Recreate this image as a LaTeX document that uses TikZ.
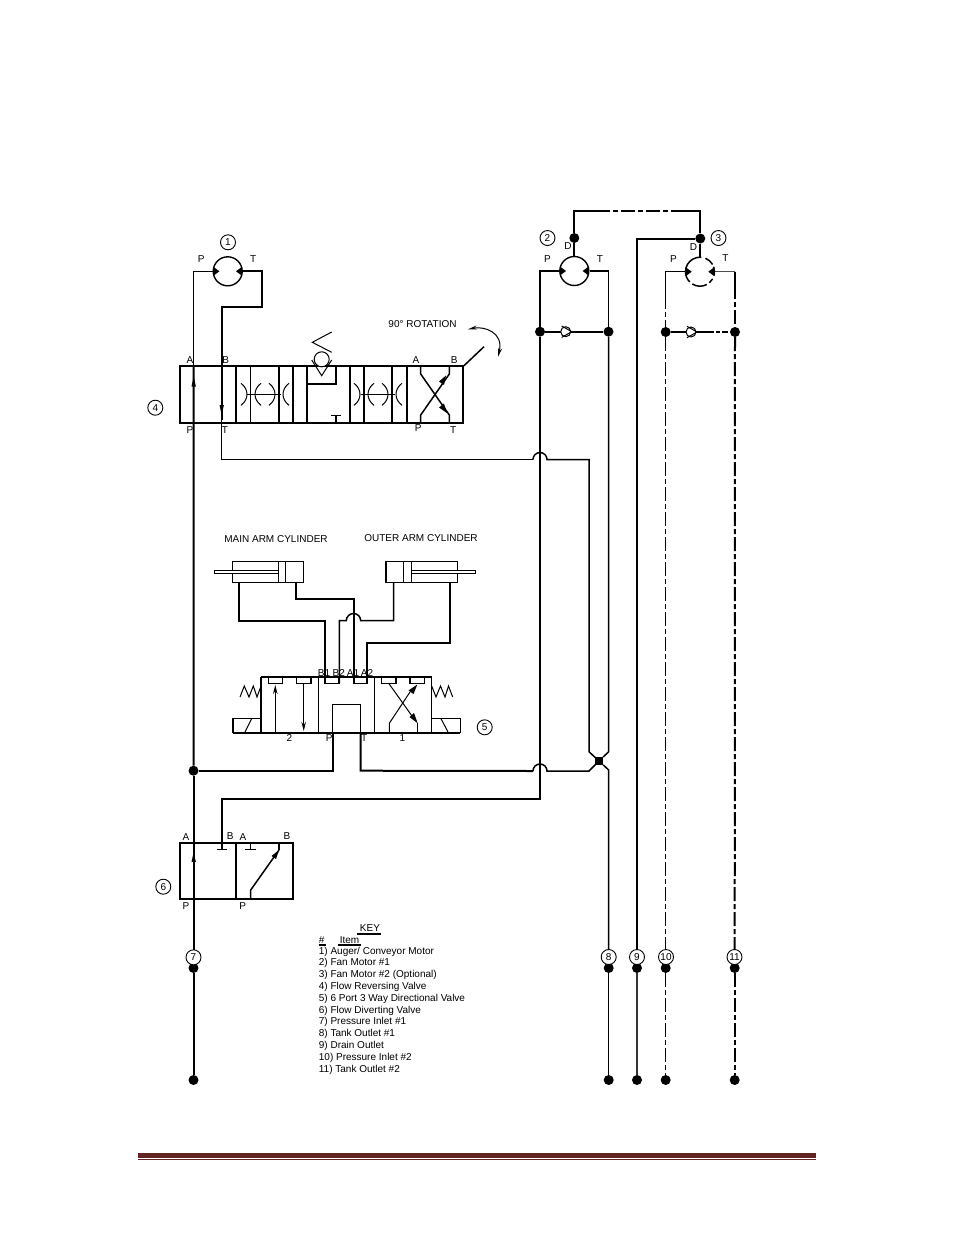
\documentclass[tikz,border=0pt]{standalone}
\usepackage{fontspec}
\setmainfont{Liberation Sans}
\usetikzlibrary{arrows.meta}
\definecolor{foot}{HTML}{622423}
\tikzset{
 x=1pt,y=-1pt,
 thick line/.style={line width=2pt},
 med line/.style={line width=1.5pt},
 thin line/.style={line width=1pt},
 lbl/.style={font=\fontsize{10}{12}\selectfont,inner sep=0pt},
 num/.style={draw,circle,line width=.9pt,minimum size=15pt,inner sep=0pt,fill=white,font=\fontsize{10}{12}\selectfont},
 dot/.style={circle,fill=black,minimum size=10pt,inner sep=0pt},
 motor/.style={draw,circle,line width=1.4pt,minimum size=29pt,inner sep=0pt,fill=white},
 dd/.style={dash pattern=on 14pt off 3pt on 5pt off 3pt},
 tri/.style={fill=black},
 vbox/.style={line width=2pt,draw},
 arr/.style={-{Stealth[length=9pt,width=4.5pt]},line width=1pt},
 key/.style={font=\fontsize{10}{12}\selectfont,inner sep=0pt,anchor=west},
}
\newcommand{\portmarks}[1]{%
 \fill[tri] (#1) ++(-14.3,-4.5) -- ++(6,4.5) -- ++(-6,4.5) -- cycle;
 \fill[tri] (#1) ++(14.3,-4.5) -- ++(-6,4.5) -- ++(6,4.5) -- cycle;
}
\newcommand{\restr}[2]{% x, y  : ")(" pair
 \draw[thin line] (#1-10,#2-11) .. controls (#1-2,#2-5) and (#1-2,#2+5) .. (#1-10,#2+11);
 \draw[thin line] (#1+10,#2-11) .. controls (#1+2,#2-5) and (#1+2,#2+5) .. (#1+10,#2+11);
}
\newcommand{\chk}[1]{%
 \draw[thin line] (#1) ++(-4,-5.7) -- ++(10,5.7) -- ++(-10,5.7);
}
\begin{document}
\begin{tikzpicture}
\useasboundingbox (0,0) rectangle (954,1235);

% ---------- coordinates of junctions
\coordinate (h1a) at (533,459.5); \coordinate (h1b) at (547,459.5);
\coordinate (h2a) at (533,771);   \coordinate (h2b) at (547,771);
\coordinate (ch) at (599,761);

% ---------- motors
\node[motor] (m1) at (227.7,271.3) {};
\node[motor] (m2) at (574.3,271) {};
\node[motor,draw=none] (m3) at (700,271.7) {};

% ---------- dots
\node[dot] (d2) at (574.3,238) {};
\node[dot] (d3) at (700.3,238.5) {};
\node[dot] (p2) at (540,331.7) {};
\node[dot] (t2) at (608.5,331.7) {};
\node[dot] (p3) at (665.7,332) {};
\node[dot] (t3) at (735,332) {};
\node[dot] (j7) at (193.5,770.7) {};
\node[dot] (a7) at (193.5,968) {};
\node[dot] (b7) at (193.5,1080) {};
\node[dot] (a8) at (608.7,968) {};
\node[dot] (b8) at (608.7,1080) {};
\node[dot] (a9) at (637,968) {};
\node[dot] (b9) at (637,1080) {};
\node[dot] (a10) at (665.7,968) {};
\node[dot] (b10) at (665.7,1080) {};
\node[dot] (a11) at (734.7,968) {};
\node[dot] (b11) at (734.7,1080) {};

% ---------- valve 4
\draw[vbox] (179.7,366.3) rectangle (463.3,422.7);
\foreach \x in {235.7,279,293,307.3,350,392.3,407.3} \draw[thick line] (\x,366.3) -- (\x,422.7);
\foreach \x in {250.3,364} \draw[med line] (\x,366.3) -- (\x,422.7);
\draw[thick line] (307.3,383.7) -- (336,383.7) -- (336,366.3);
\draw[thin line] (247,394.3) -- (281,394.3);
\draw[thin line] (360.5,394.3) -- (394.5,394.3);
\restr{251}{394.3}\restr{279}{394.3}\restr{364}{394.3}\restr{392}{394.3}
% check
\draw[thin line,fill=white] (321.7,359.3) circle (7.5);
\draw[thin line] (311.7,360) -- (321.7,375.7) -- (331.7,360);
\draw[thin line] (331.7,332) -- (312.3,342.3) -- (331.7,352.3);
\draw[thick line] (335.7,422.7) -- (335.7,415.7);
\draw[med line] (330.7,415.7) -- (341,415.7);
% X
\draw[med line] (420.7,366.3) -- (420.7,374) -- (449.3,415) -- (449.3,422.7);
\draw[med line] (449.3,366.3) -- (449.3,374) -- (420.7,415) -- (420.7,422.7);
\fill[tri] (446,375.5) -- (444,385) -- (439,381.5) -- cycle;
\fill[tri] (447,413) -- (439,407.5) -- (444,403.5) -- cycle;
\draw[med line] (463.3,366.3) -- (484,346.7);
\draw[thin line,{Stealth[length=9pt,width=4pt]}-{Stealth[length=9pt,width=4pt]}] (468,329.3) .. controls (484,326) and (504,332) .. (498,357);

% ---------- motor 1 connections
\draw[thick line] (m1.east) -- (262.3,271.3) -- (262.3,307.3) -- (221.7,307.3) -- (221.7,420);
\draw[med line] (221.7,420) -- (221.7,459.5) -- (h1a);
\draw[med line] (h1a) arc (180:360:7) -- (589,459.5) -- (589,751.7) -- (ch);
\draw[med line] (m1.west) -- (193.7,271.3) -- (193.7,366);
\draw[thick line] (193.7,366) -- (j7.north);
\draw[thick line] (j7) -- (a7);
\draw[thick line] (a7) -- (b7);
\fill[tri] (193.7,386.5) ++(-2.2,0) -- ++(2.2,-10) -- ++(2.2,10) -- cycle;
\fill[tri] (221.7,405) ++(-2.2,0) -- ++(2.2,10) -- ++(2.2,-10) -- cycle;
\portmarks{m1}

% ---------- cylinders
\draw[med line] (232.3,561.3) rectangle (303.3,582.3);
\draw[thin line,fill=white] (214.3,570.3) rectangle (278.3,573);
\draw[med line] (278.3,561.3) -- (278.3,582.3);
\draw[med line] (285.3,561.3) -- (285.3,582.3);
\draw[med line] (386,561.3) rectangle (457.7,582.3);
\draw[thin line,fill=white] (411.7,570.3) rectangle (475.7,573);
\draw[thin line] (403.3,561.3) -- (403.3,582.3);
\draw[med line] (411.7,561.3) -- (411.7,582.3);

% ---------- valve 5
\draw[med line] (261,677) -- (431.7,677);
\draw[thick line] (233,732.7) -- (460.3,732.7);
\draw[med line] (261,677) -- (261,732.7);
\draw[med line] (431.7,677) -- (431.7,732.7);
\draw[thin line] (318.3,677) -- (318.3,732.7);
\draw[med line] (374.7,677) -- (374.7,732.7);
\draw[med line] (233,732.7) -- (233,718.7) -- (261,718.7);
\draw[med line] (460.3,732.7) -- (460.3,718.7) -- (431.7,718.7);
\draw[thin line] (245,732) -- (251.7,718.7);
\draw[thin line] (448,732) -- (441,718.7);
\draw[thin line] (240,697) -- (244.3,686) -- (249,697) -- (253.3,686) -- (257,697) -- (261,686);
\draw[thin line] (431.7,686) -- (436,697) -- (440.5,686) -- (445,697) -- (448.5,686) -- (452.7,697);
\foreach \x in {268.3,296.7,324.7,353.3,381.7,410}
  \draw[med line] (\x,677) -- (\x,683.7) -- (\x+14.3,683.7) -- (\x+14.3,677);
\draw[arr] (275.3,732.7) -- (275.3,685);
\draw[arr] (303.7,683.7) -- (303.7,731);
\draw[thin line] (389.3,732.7) -- (389.3,723.3) -- (410,692);
\fill[tri] (417.3,684.5) -- (413.5,694) -- (408.5,690.5) -- cycle;
\draw[thin line] (389,683.7) -- (412,716);
\draw[thin line] (417.7,732.7) -- (417.7,723.3);
\fill[tri] (417.7,723.3) -- (409.5,717) -- (414,713) -- cycle;

% center block and supply/return lines
\draw[med line] (332.7,732.7) -- (332.7,704.3) -- (360.7,704.3) -- (360.7,732.7);
\draw[thick line] (j7) -- (332.7,770.7) -- (332.7,732.7);
\draw[thick line] (360.7,732.7) -- (360.7,770.7) -- (h2a);
\draw[med line] (h2a) arc (180:360:7) -- (589,771) -- (ch);
% cylinder lines
\draw[thick line] (239,582.3) -- (239,620.7) -- (325,620.7) -- (325,683.7);
\draw[thick line] (296,582.3) -- (296,599) -- (353.7,599) -- (353.7,683.7);
\draw[med line] (393.7,582.3) -- (393.7,620.7) -- (360.7,620.7) arc (0:-180:7.2) -- (339.3,620.7) -- (339.3,683.7);
\draw[thick line] (450.3,582.3) -- (450.3,643.3) -- (367.3,643.3) -- (367.3,683.7);

% ---------- centre junction
\node[fill=black,minimum size=8pt,inner sep=0pt] (jc) at (ch) {};
\draw[med line] (t2) -- (608.7,751.7) -- (jc);
\draw[med line] (jc) -- (608.7,770) -- (a8);
\draw[med line] (a8) -- (b8);

% ---------- motor 2 system
\draw[thick line] (m2.west) -- (540,271) -- (p2);
\draw[thick line] (p2) -- (540,798.7) -- (221.7,798.7) -- (221.7,849.3);
\draw[med line] (m2.east) -- (608.5,271) -- (t2);
\draw[thick line] (p2) -- (t2);
\node[circle,draw,thin line,fill=white,minimum size=10pt,inner sep=0pt] (c2) at (565.7,331.7) {};
\chk{565.7,331.7}
\portmarks{m2}
\draw[thick line] (m2.north) -- (d2);
\draw[thick line] (d2) -- (574.3,211) -- (596,211);
\draw[thick line,dd] (596,211) -- (679,211);
\draw[thick line] (679,211) -- (700.3,211) -- (d3);
\draw[thick line] (d3) -- (637,238.5) -- (a9);
\draw[med line,black!80] (a9) -- (b9);

% ---------- motor 3 system
\draw[thick line] (d3) -- (700.3,257.2);
\draw[med line] (m3.west) -- (665.7,271.7) -- (665.7,295);
\draw[med line,dd] (665.7,295) -- (p3);
\draw[thin line,black!70] (m3.east) -- (735,271.7);
\draw[thick line] (735,271.7) -- (735,285);
\draw[thick line,dd] (735,285) -- (t3);
\draw[med line] (m3) ++(-180:14.5) arc (-180:-85:14.5);
\draw[med line] (m3) ++(-68:14.5) arc (-68:-30:14.5);
\draw[med line] (m3) ++(-20:14.5) arc (-20:15:14.5);
\draw[med line] (m3) ++(30:14.5) arc (30:50:14.5);
\draw[med line] (m3) ++(62:14.5) arc (62:122:14.5);
\draw[med line] (m3) ++(135:14.5) arc (135:180:14.5);
\portmarks{m3}
\draw[thick line] (p3) -- (708,332);
\draw[thick line,dash pattern=on 6pt off 2pt on 4pt off 2pt] (708,332) -- (t3);
\node[circle,draw,thin line,fill=white,minimum size=10pt,inner sep=0pt] (c3) at (691,332) {};
\chk{691,332}
\draw[med line,dd] (p3) -- (a10);
\draw[med line,dd] (a10) -- (b10);
\draw[thick line,dd] (t3) -- (a11);
\draw[thick line,dd] (a11) -- (b11);

% ---------- valve 6
\draw[vbox] (179.7,842.7) rectangle (293,898.7);
\draw[thick line] (236,842.7) -- (236,898.7);
\draw[med line] (217,849.3) -- (227.3,849.3);
\draw[med line] (245,849.3) -- (255.7,849.3);
\draw[med line] (250.3,842.7) -- (250.3,849.3);
\draw[thick line] (279,842.7) -- (279,850);
\draw[med line] (279,850) -- (250.7,890) -- (250.7,898.7);
\fill[tri] (279,850) -- (276,859) -- (271.5,856) -- cycle;
\fill[tri] (193.7,862) ++(-2.2,0) -- ++(2.2,-10) -- ++(2.2,10) -- cycle;

% ---------- labels
\node[lbl] (l1) at (201.3,259.3) {P};
\node[lbl] (l2) at (253.3,259) {T};
\node[lbl] (l3) at (190,360) {A};
\node[lbl] (l4) at (225.7,360) {B};
\node[lbl] (l5) at (190,430) {P};
\node[lbl] (l6) at (225,430) {T};
\node[lbl] (l7) at (416,360) {A};
\node[lbl] (l8) at (454.3,360) {B};
\node[lbl] (l9) at (418.3,428.3) {P};
\node[lbl] (l10) at (453.3,430) {T};
\node[lbl] (l11) at (422.5,324) {90° ROTATION};
\node[lbl] (l12) at (276,539.3) {MAIN ARM CYLINDER};
\node[lbl] (l13) at (421,538) {OUTER ARM CYLINDER};
\node[lbl] (l14) at (324,673) {B1};
\node[lbl] (l15) at (338.7,673) {B2};
\node[lbl] (l16) at (353,673) {A1};
\node[lbl] (l17) at (367,673) {A2};
\node[lbl] (l18) at (289.3,738.3) {2};
\node[lbl] (l19) at (329.3,738.3) {P};
\node[lbl] (l20) at (364.3,738.3) {T};
\node[lbl] (l21) at (402.3,738.3) {1};
\node[lbl] (l22) at (186,836.7) {A};
\node[lbl] (l23) at (230.3,836) {B};
\node[lbl] (l24) at (243,836.7) {A};
\node[lbl] (l25) at (287,836) {B};
\node[lbl] (l26) at (186,905.7) {P};
\node[lbl] (l27) at (242.7,905.7) {P};
\node[lbl] (l28) at (568,246) {D};
\node[lbl] (l29) at (547.5,259) {P};
\node[lbl] (l30) at (600,259) {T};
\node[lbl] (l31) at (693.5,247.5) {D};
\node[lbl] (l32) at (673.5,259) {P};
\node[lbl] (l33) at (725.5,258) {T};

\node[num] (n1) at (228,242.3) {1};
\node[num] (n2) at (547.5,238) {2};
\node[num] (n3) at (718.5,238) {3};
\node[num] (n4) at (155.3,407.7) {4};
\node[num] (n5) at (484.7,727.3) {5};
\node[num] (n6) at (163.3,886.7) {6};
\node[num] (n7) at (193.5,957.3) {7};
\node[num] (n8) at (608.7,957) {8};
\node[num] (n9) at (637,957) {9};
\node[num] (n10) at (666,957) {10};
\node[num] (n11) at (734.5,957) {11};

% ---------- key
\node[lbl] (kk) at (370,927.7) {KEY};
\draw[thick line] (357.3,933.7) -- (380.7,933.7);
\node[key] (kh) at (318.7,940) {\#};
\node[lbl] (ki) at (349.6,940) {Item};
\draw[med line] (318.7,945) -- (325.5,945);
\draw[med line] (338.3,945) -- (360.7,945);
\node[key] (k1) at (318.7,951.7) {1) Auger/ Conveyor Motor};
\node[key] (k2) at (318.7,963.3) {2) Fan Motor \#1};
\node[key] (k3) at (318.7,975) {3) Fan Motor \#2 (Optional)};
\node[key] (k4) at (318.7,987) {4) Flow Reversing Valve};
\node[key] (k5) at (318.7,998.7) {5) 6 Port 3 Way Directional Valve};
\node[key] (k6) at (318.7,1010.7) {6) Flow Diverting Valve};
\node[key] (k7) at (318.7,1022.3) {7) Pressure Inlet \#1};
\node[key] (k8) at (318.7,1034.3) {8) Tank Outlet \#1};
\node[key] (k9) at (318.7,1046) {9) Drain Outlet};
\node[key] (k10) at (318.7,1057.7) {10) Pressure Inlet \#2};
\node[key] (k11) at (318.7,1069.7) {11) Tank Outlet \#2};

% ---------- footer rule
\fill[foot] (138,1153) rectangle (816,1158);
\fill[foot] (138,1159) rectangle (816,1160);
\end{tikzpicture}
\end{document}
